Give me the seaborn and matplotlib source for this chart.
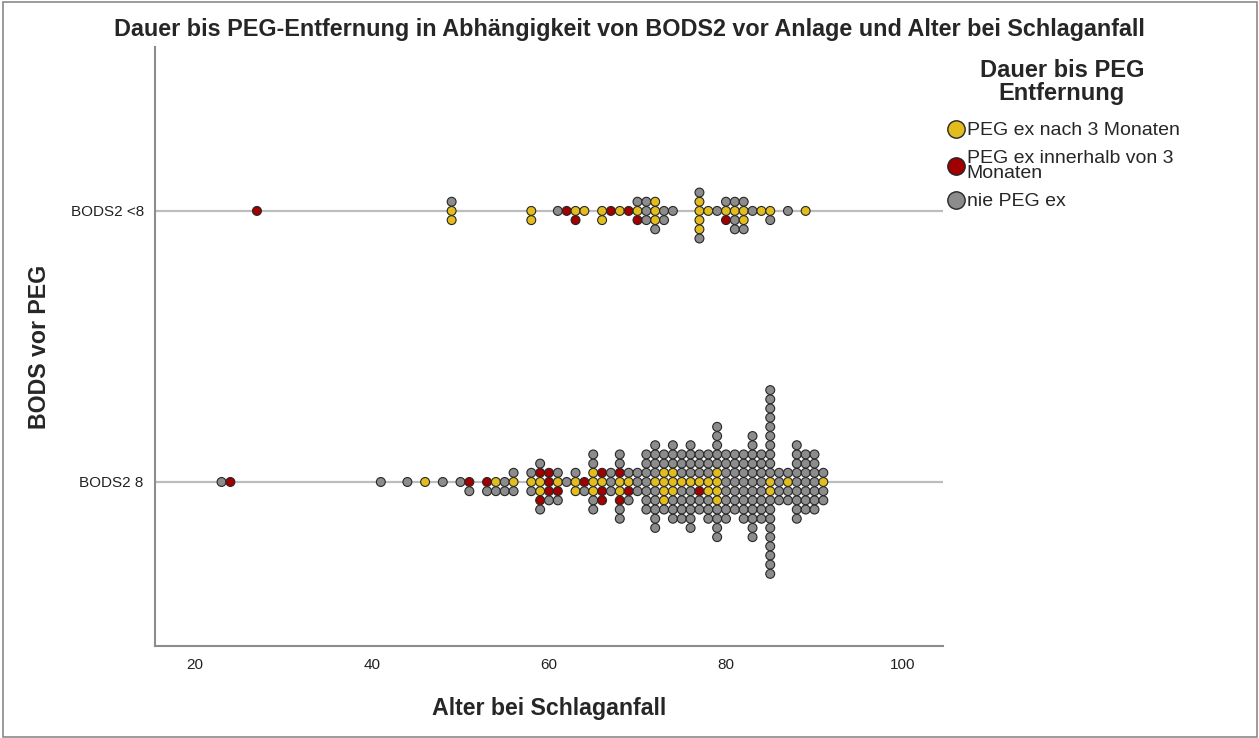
import matplotlib.pyplot as plt
import matplotlib.patches as mpatches
import numpy as np
import pandas as pd
import seaborn as sns
from matplotlib.lines import Line2D

# Categories
groups = ["BODS2 <8", "BODS2 8"]
outcomes = ["PEG ex nach 3 Monaten", "PEG ex innerhalb von 3 Monaten", "nie PEG ex"]
legend_labels = ["PEG ex nach 3 Monaten", "PEG ex innerhalb von 3\nMonaten", "nie PEG ex"]
colors = ["#e3bd1d", "#a00000", "#8c8c8c"]
x_ticks = [20, 40, 60, 80, 100]

# BODS2 <8: age at stroke and number of patients at that age, per outcome
lt8_nach_age = [49, 58, 63, 64, 66, 68, 70, 72, 77, 78, 80, 81, 82, 84, 85, 89]
lt8_nach_n = [2, 2, 1, 1, 2, 1, 1, 3, 4, 1, 1, 1, 2, 1, 1, 1]
lt8_inner_age = [27, 62, 63, 67, 69, 70, 80]
lt8_inner_n = [1, 1, 1, 1, 1, 1, 1]
lt8_nie_age = [49, 61, 70, 71, 72, 73, 74, 77, 79, 80, 81, 82, 83, 85, 87]
lt8_nie_n = [1, 1, 1, 3, 1, 2, 1, 2, 1, 1, 3, 2, 1, 1, 1]

# BODS2 8
ge8_nach_age = [46, 54, 56, 58, 59, 61, 63, 65, 66, 68, 69, 72, 73, 74, 75, 76, 77, 78, 79, 85, 87, 91]
ge8_nach_n = [1, 1, 1, 1, 2, 1, 2, 3, 1, 2, 1, 1, 4, 3, 1, 1, 1, 2, 4, 2, 1, 1]
ge8_inner_age = [24, 51, 53, 59, 60, 61, 64, 66, 68, 69, 77]
ge8_inner_n = [1, 1, 1, 2, 3, 1, 1, 3, 2, 1, 1]
ge8_nie_age = [23, 41, 44, 48, 50, 51, 53, 54, 55, 56, 58, 59, 60, 61, 62, 63, 64, 65, 67, 68,
               69, 70, 71, 72, 73, 74, 75, 76, 77, 78, 79, 80, 81, 82, 83, 84, 85, 86, 87, 88,
               89, 90, 91]
ge8_nie_n = [1, 1, 1, 1, 1, 1, 1, 1, 2, 2, 2, 2, 1, 2, 1, 1, 1, 4, 3, 4,
             2, 3, 7, 9, 3, 6, 7, 9, 5, 6, 9, 8, 7, 8, 12, 8, 19, 4, 3, 9,
             7, 7, 3]


def block(group, outcome, ages, counts):
    ages = np.repeat(ages, counts)
    return pd.DataFrame({"Alter": ages, "BODS": group, "Dauer": outcome})


df = pd.concat([
    block(groups[0], outcomes[0], lt8_nach_age, lt8_nach_n),
    block(groups[0], outcomes[1], lt8_inner_age, lt8_inner_n),
    block(groups[0], outcomes[2], lt8_nie_age, lt8_nie_n),
    block(groups[1], outcomes[0], ge8_nach_age, ge8_nach_n),
    block(groups[1], outcomes[1], ge8_inner_age, ge8_inner_n),
    block(groups[1], outcomes[2], ge8_nie_age, ge8_nie_n),
], ignore_index=True)
# coloured points first inside each age so they end up near the middle of a stack
df = df.sort_values("Alter", kind="mergesort").reset_index(drop=True)

sns.set_style("white")
plt.rcParams["font.family"] = ["Liberation Sans", "DejaVu Sans"]

fig = plt.figure(figsize=(12.59, 7.38), dpi=100)
ax = fig.add_axes([0.1231, 0.1247, 0.6259, 0.8117])

palette = dict(zip(outcomes, colors))
# marker + edge must stay just under one year on the x scale so stacks stay in columns
sns.swarmplot(
    data=df, x="Alter", y="BODS", hue="Dauer",
    order=groups, hue_order=outcomes, palette=palette,
    orient="h", size=5.5, linewidth=0.8, edgecolor="#262626",
    legend=False, ax=ax,
)

ax.set_xlim(15.48, 104.52)
ax.set_ylim(1.605, -0.605)
ax.set_xticks(x_ticks)
ax.yaxis.grid(True, color="#bdbdbd", lw=1.6)
ax.xaxis.grid(False)
ax.set_axisbelow(True)
ax.tick_params(axis="both", length=0, labelsize=11, colors="#222222")
ax.tick_params(axis="x", pad=9)
ax.tick_params(axis="y", pad=8)

# lay the swarm out once, then freeze it and draw the dots a bit larger
# so neighbouring dots touch like in the SPSS dot plot
fig.canvas.draw()
for coll in ax.collections:
    if "draw" in coll.__dict__:
        del coll.draw
        coll.set_sizes([6.4 ** 2])

for side in ("top", "right"):
    ax.spines[side].set_visible(False)
for side in ("left", "bottom"):
    ax.spines[side].set_color("#8c8c8c")
    ax.spines[side].set_linewidth(1.5)

ax.set_xlabel("Alter bei Schlaganfall", fontsize=16.7, fontweight="bold")
ax.set_ylabel("BODS vor PEG", fontsize=16.7, fontweight="bold")
ax.xaxis.label.set_va("center")
ax.yaxis.label.set_va("center")
ax.xaxis.set_label_coords(0.5, -0.105)
ax.yaxis.set_label_coords(-0.146, 0.5)

fig.suptitle(
    "Dauer bis PEG-Entfernung in Abhängigkeit von BODS2 vor Anlage und Alter bei Schlaganfall",
    fontsize=16.8, fontweight="bold", y=0.96, va="center",
)

# legend title as its own text so the gap to the entries matches
fig.text(1062 / 1259, 1 - 82 / 738, "Dauer bis PEG\nEntfernung", ha="center", va="center",
         fontsize=17, fontweight="bold", linespacing=1.05)

handles = [
    Line2D([], [], marker="o", linestyle="", markersize=12.5,
           markerfacecolor=c, markeredgecolor="#262626", markeredgewidth=1.0)
    for c in colors
]
leg = fig.legend(
    handles, legend_labels,
    loc="upper left", bbox_to_anchor=(0.744, 1 - 112 / 738), frameon=False,
    fontsize=14, handletextpad=0.05, handlelength=1.0, labelspacing=0.55, borderpad=0,
)
for t in leg.get_texts():
    t.set_linespacing(0.85)

# thin frame round the whole chart
fig.add_artist(mpatches.Rectangle(
    (3 / 1259, 1 / 738), 1254 / 1259, 735 / 738, transform=fig.transFigure,
    fill=False, edgecolor="#8a8a8a", lw=1.2,
))

fig.savefig("out.png", dpi=100)
plt.close(fig)
